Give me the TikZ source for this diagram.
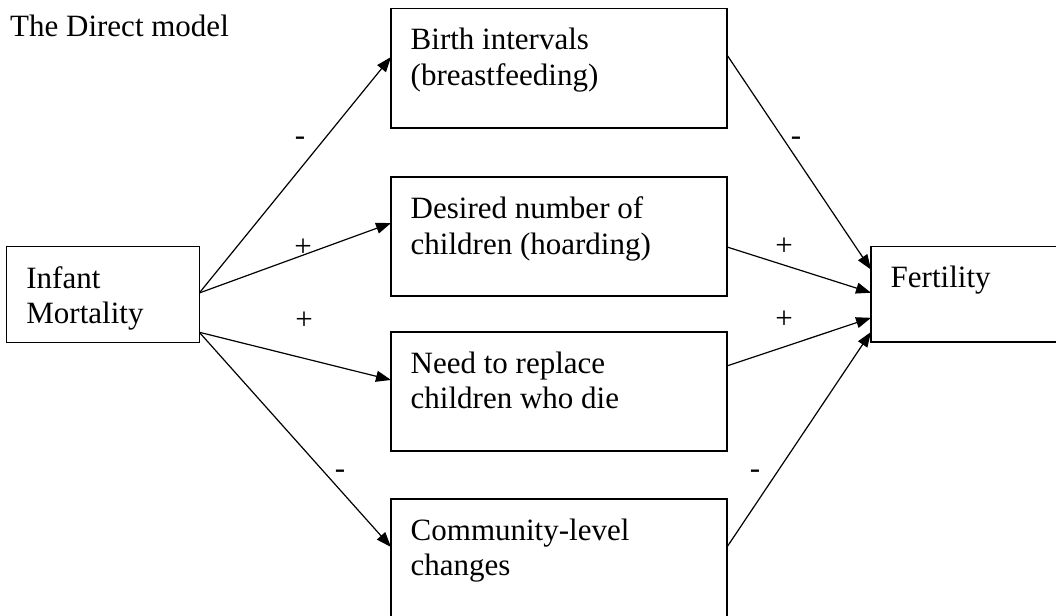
\documentclass[tikz,border=0pt]{standalone}
\usepackage{fontspec}
\setmainfont{Liberation Serif}
\usetikzlibrary{arrows.meta,calc}
\begin{document}
\begin{tikzpicture}[x=1pt,y=-1pt,
  box/.style={draw, line width=1.3pt, rectangle, inner sep=0pt, outer sep=0pt, anchor=north west},
  boxtxt/.style={anchor=north west, inner sep=0pt, align=left, xshift=19.5pt, yshift=-19.5pt, font=\fontsize{31}{35.6}\selectfont},
  sign/.style={anchor=base, inner sep=0pt, font=\fontsize{31}{35.6}\selectfont},
  arr/.style={line width=1.2pt, -{Triangle[length=15pt,width=11pt]}}]
\useasboundingbox (0,0) rectangle (1056,615);
\clip (0,0) rectangle (1056,615);
\fill[white] (0,0) rectangle (1056,615);

\node[anchor=base west, inner sep=0pt, font=\fontsize{31}{35.6}\selectfont] (title) at (10,37) {The Direct model};

\node[box, minimum width=192.6pt, minimum height=95.6pt, label={[boxtxt]north west:Infant\\Mortality}] (inf) at (6.7,246.7) {};
\node[box, minimum width=336pt, minimum height=119.5pt, label={[boxtxt]north west:Birth intervals\\(breastfeeding)}] (birth) at (391,8.5) {};
\node[box, minimum width=336pt, minimum height=119pt, label={[boxtxt]north west:Desired number of\\children (hoarding)}] (des) at (391,177) {};
\node[box, minimum width=336pt, minimum height=119pt, label={[boxtxt]north west:Need to replace\\children who die}] (need) at (391,332) {};
\node[box, minimum width=336pt, minimum height=120pt, label={[boxtxt]north west:Community-level\\changes}] (comm) at (391,499) {};
\node[box, minimum width=220pt, minimum height=95.5pt, label={[boxtxt]north west:Fertility}] (fert) at (871,246.5) {};

\draw[arr] ($(inf.north east)!0.484!(inf.south east)$) -- ($(birth.north west)!0.406!(birth.south west)$);
\draw[arr] ($(inf.north east)!0.484!(inf.south east)$) -- ($(des.north west)!0.387!(des.south west)$);
\draw[arr] ($(inf.north east)!0.895!(inf.south east)$) -- ($(need.north west)!0.403!(need.south west)$);
\draw[arr] ($(inf.north east)!0.895!(inf.south east)$) -- ($(comm.north west)!0.40!(comm.south west)$);

\draw[arr] ($(birth.north east)!0.389!(birth.south east)$) -- ($(fert.north west)!0.242!(fert.south west)$);
\draw[arr] ($(des.north east)!0.588!(des.south east)$) -- ($(fert.north west)!0.484!(fert.south west)$);
\draw[arr] ($(need.north east)!0.285!(need.south east)$) -- ($(fert.north west)!0.747!(fert.south west)$);
\draw[arr] ($(comm.north east)!0.40!(comm.south east)$) -- ($(fert.north west)!0.895!(fert.south west)$);

\node[sign] (s1) at (300,145.5) {-};
\node[sign] (s2) at (303,256) {+};
\node[sign] (s3) at (304,329.5) {+};
\node[sign] (s4) at (340,478.5) {-};
\node[sign] (s5) at (796,145.5) {-};
\node[sign] (s6) at (784,255) {+};
\node[sign] (s7) at (784,328.5) {+};
\node[sign] (s8) at (755,478.5) {-};
\end{tikzpicture}
\end{document}
